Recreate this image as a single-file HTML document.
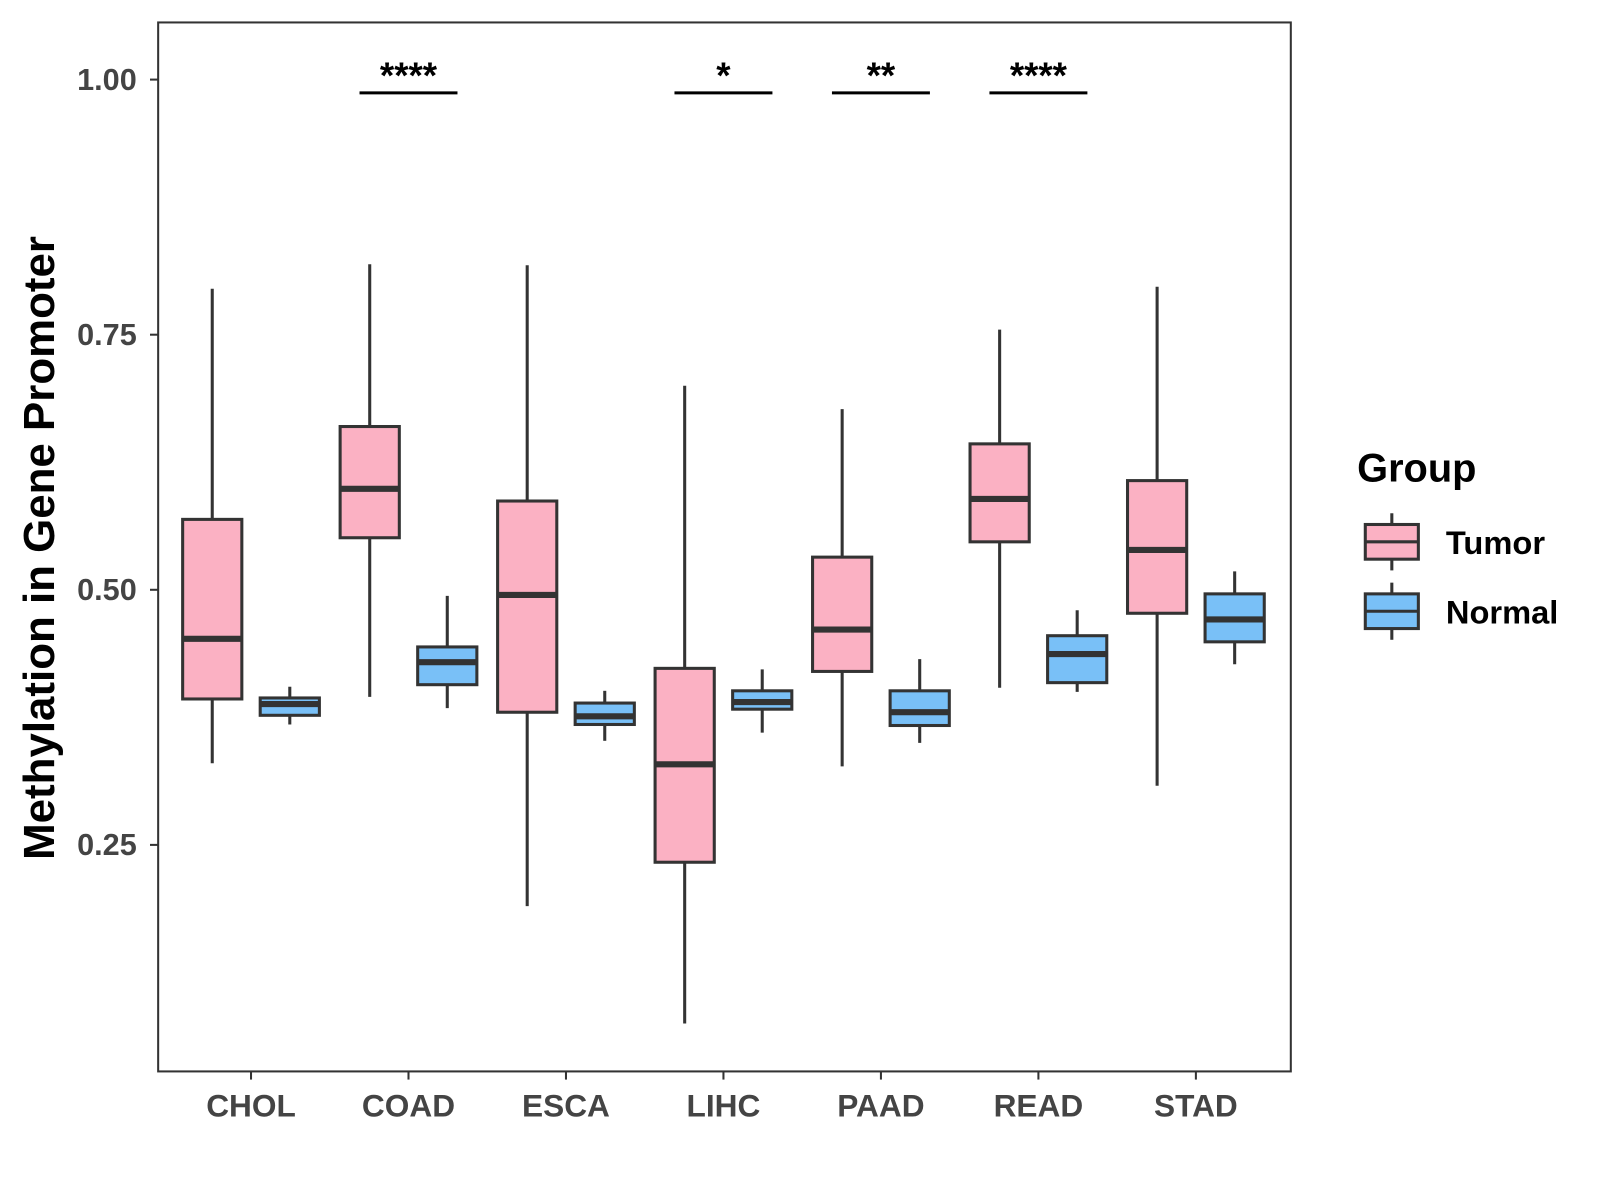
<!DOCTYPE html>
<html><head><meta charset="utf-8"><style>body{margin:0;background:#fff}svg{display:block}text{font-family:"Liberation Sans",Arial,sans-serif;font-weight:bold}</style></head>
<body>
<svg id="chart" width="1600" height="1200">
<g transform="scale(1.0204)">
<rect x="155" y="22" width="1110" height="1028" fill="#fff" stroke="#333" stroke-width="2"/>
<g id="yaxis"></g>
<g id="xaxis"></g>
<g id="boxes"></g>
<g id="sig"></g>
<text x="53" y="537" font-size="43" fill="#000" text-anchor="middle" transform="rotate(-90 53 537)">Methylation in Gene Promoter</text>
<g>
<text x="1330" y="472" font-size="39" fill="#000">Group</text>
<g>
<line x1="1364" y1="503" x2="1364" y2="559" stroke="#333" stroke-width="3"/>
<rect x="1338" y="514" width="52" height="34" fill="#fbb1c3" stroke="#333" stroke-width="3"/>
<line x1="1338" y1="531" x2="1390" y2="531" stroke="#333" stroke-width="3"/>
<text x="1417" y="543" font-size="32" fill="#000">Tumor</text></g>
<g>
<line x1="1364" y1="571" x2="1364" y2="627" stroke="#333" stroke-width="3"/>
<rect x="1338" y="582" width="52" height="34" fill="#79c0f7" stroke="#333" stroke-width="3"/>
<line x1="1338" y1="599" x2="1390" y2="599" stroke="#333" stroke-width="3"/>
<text x="1417" y="611" font-size="32" fill="#000">Normal</text></g>
</g>
</g>
</svg>
<script>
const categories=["CHOL","COAD","ESCA","LIHC","PAAD","READ","STAD"];
const tumorLow=[0.33,0.395,0.19,0.075,0.327,0.404,0.308];
const tumorQ1=[0.393,0.551,0.380,0.233,0.420,0.547,0.477];
const tumorMed=[0.452,0.599,0.495,0.329,0.461,0.589,0.539];
const tumorQ3=[0.569,0.660,0.587,0.423,0.532,0.643,0.607];
const tumorHigh=[0.795,0.819,0.818,0.700,0.677,0.755,0.797];
const normalLow=[0.368,0.384,0.352,0.360,0.350,0.400,0.427];
const normalQ1=[0.377,0.407,0.368,0.383,0.367,0.409,0.449];
const normalMed=[0.388,0.429,0.376,0.390,0.380,0.437,0.471];
const normalQ3=[0.394,0.444,0.389,0.401,0.401,0.455,0.496];
const normalHigh=[0.405,0.494,0.401,0.422,0.432,0.480,0.518];
const sigLabels=["","****","","*","**","****",""];
const yTicks=[0.25,0.5,0.75,1.0];
const yTickLabels=["0.25","0.50","0.75","1.00"];
const NS="http://www.w3.org/2000/svg";
function y(v){return 1078-1000*v;}
function x(i){return 246+i*154.33;}
function mk(tag,attrs,parent,txt){const e=document.createElementNS(NS,tag);for(const k in attrs)e.setAttribute(k,attrs[k]);if(txt!==undefined)e.textContent=txt;parent.appendChild(e);return e;}
const ya=document.getElementById('yaxis'),xa=document.getElementById('xaxis'),bx=document.getElementById('boxes'),sg=document.getElementById('sig');
yTicks.forEach((t,i)=>{
 const l=mk('line',{x1:147,x2:155,y1:y(t),y2:y(t),stroke:'#333','stroke-width':2},ya);
 
 
 const tx=mk('text',{x:134,y:y(t)+10,'font-size':30,fill:'#444','text-anchor':'end'},ya,yTickLabels[i]);
 
 
});
categories.forEach((c,i)=>{
 const l=mk('line',{x1:x(i),x2:x(i),y1:1050,y2:1058,stroke:'#333','stroke-width':2},xa);
 
 
 const tx=mk('text',{x:x(i),y:1094,'font-size':31,fill:'#444','text-anchor':'middle'},xa,c);
 
 
 const groups=[[-38,'#fbb1c3',tumorLow,tumorQ1,tumorMed,tumorQ3,tumorHigh,'tumor'],[38,'#79c0f7',normalLow,normalQ1,normalMed,normalQ3,normalHigh,'normal']];
 groups.forEach(g=>{
  const cx=x(i)+g[0];
  const gr=mk('g',{},bx);
  
  
  mk('line',{x1:cx,x2:cx,y1:y(g[2][i]),y2:y(g[6][i]),stroke:'#333','stroke-width':3},gr);
  mk('rect',{x:cx-29,y:y(g[5][i]),width:58,height:y(g[3][i])-y(g[5][i]),fill:g[1],stroke:'#333','stroke-width':3},gr);
  mk('line',{x1:cx-29,x2:cx+29,y1:y(g[4][i]),y2:y(g[4][i]),stroke:'#333','stroke-width':6},gr);
 });
 if(sigLabels[i]){
  const gr=mk('g',{},sg);
  
  
  mk('line',{x1:x(i)-48,x2:x(i)+48,y1:91,y2:91,stroke:'#000','stroke-width':3},gr);
  mk('text',{x:x(i),y:86,'font-size':36,fill:'#000','text-anchor':'middle'},gr,sigLabels[i]);
 }
});
</script>
</body></html>
